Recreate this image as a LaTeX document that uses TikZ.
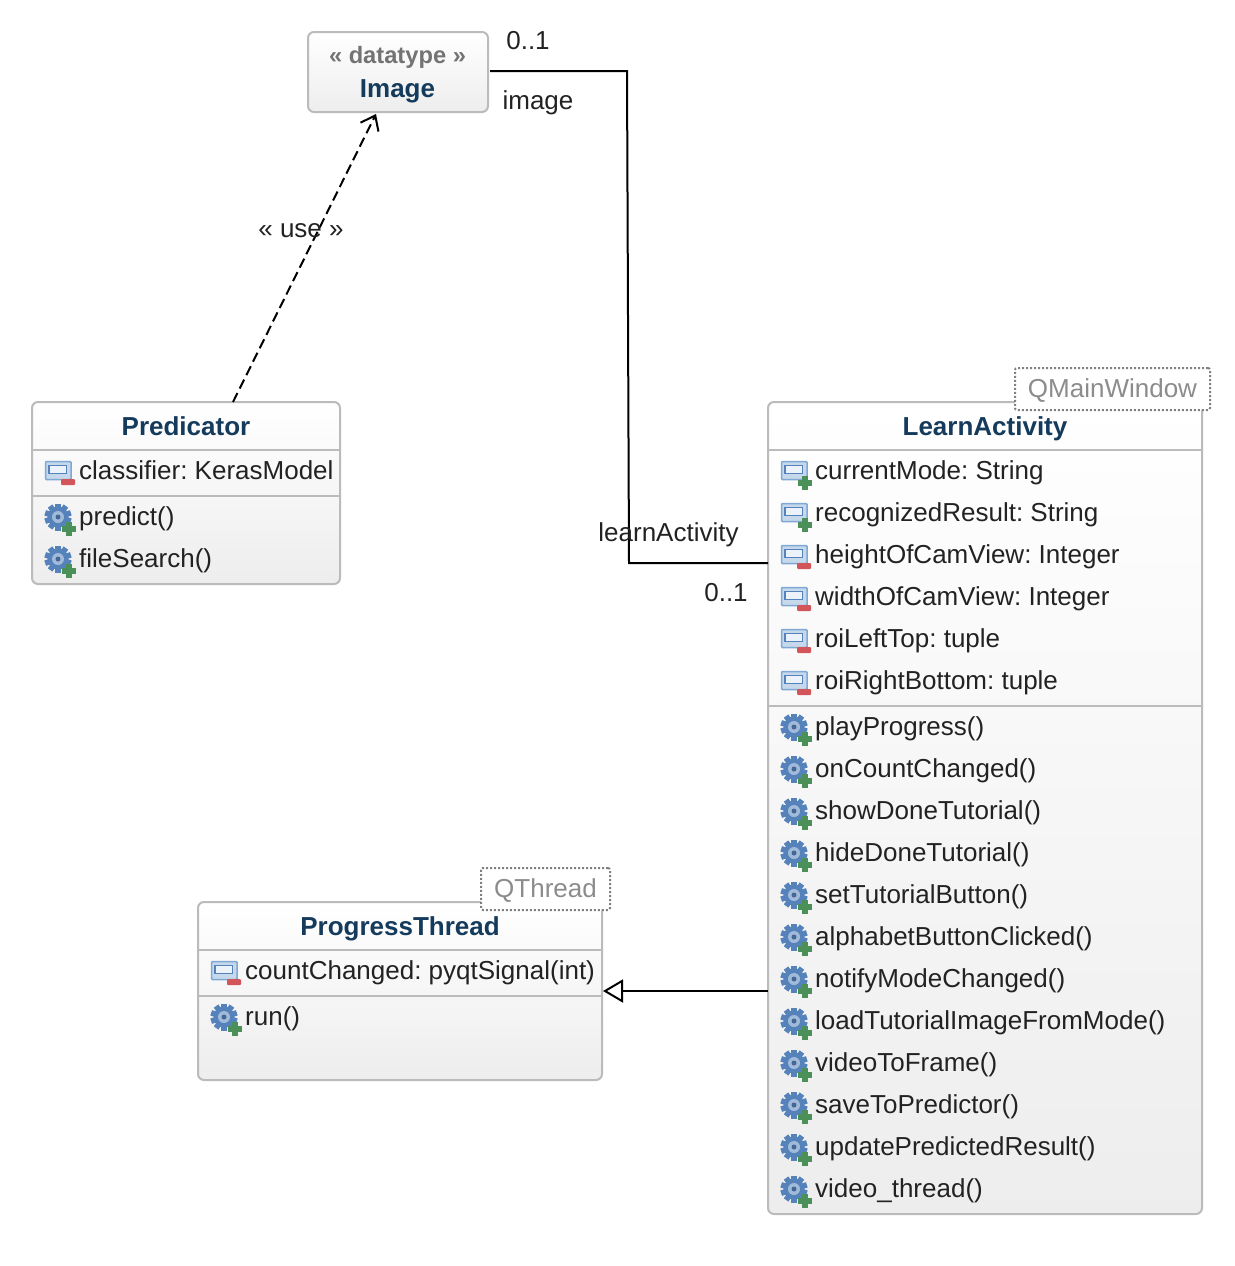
\documentclass[tikz,border=0pt]{standalone}
\usepackage{fontspec}
\setmainfont{Liberation Sans}
\usetikzlibrary{arrows.meta}
\definecolor{titleblue}{HTML}{143A5C}
\definecolor{textdark}{HTML}{222222}
\definecolor{boxgray}{HTML}{BBBBBB}
\definecolor{gearblue}{HTML}{5582BA}
\definecolor{iconblue}{HTML}{7FA8D4}
\definecolor{plusgreen}{HTML}{4A9058}
\definecolor{minusred}{HTML}{D2555A}
\tikzset{
  classbox/.style={draw=boxgray,line width=2pt,rounded corners=6pt,inner sep=0pt,outer sep=0pt,top color=white,bottom color=black!7},
  parentbox/.style={draw=black!50,line width=2pt,dash pattern=on 2pt off 2pt,rounded corners=2pt,fill=white,inner sep=0pt,text=black!45,text height=21pt,text depth=5pt,font=\fontsize{26}{30}\selectfont},
  classname/.style={anchor=base,inner sep=0pt,text=titleblue,font=\fontsize{26}{30}\selectfont\bfseries},
  rowtext/.style={anchor=base west,inner sep=0pt,text=textdark,font=\fontsize{26}{30}\selectfont\frenchspacing},
  endlabel/.style={inner sep=0pt,text=textdark,font=\fontsize{26}{30}\selectfont},
  sepline/.style={draw=boxgray,line width=2pt},
  assoc/.style={line width=2pt,black},
  genline/.style={line width=2pt,black,{Triangle[open,length=20pt,width=23pt,line width=2pt]}-},
  depline/.style={line width=2pt,black,dash pattern=on 10pt off 5pt,-{Straight Barb[length=13pt,width=20pt,line width=2pt]}},
  pics/attrbase/.style={code={
    \draw[iconblue,line width=1.5pt,fill=iconblue!45,rounded corners=1pt] (-12.5,-9.5) rectangle (13,8.5);
    \draw[gearblue,line width=1.2pt,fill=white!85!iconblue] (-9,-5.5) rectangle (8.5,2.5);
  }},
  pics/attrminus/.style={code={
    \pic {attrbase};
    \fill[minusred,rounded corners=1pt] (3,8) rectangle (17,14);
  }},
  pics/plusmark/.style={code={
    \draw[white,line width=2pt] (11,5.5) -- (11,18.5) (4.5,12) -- (17.5,12);
    \fill[plusgreen] (8,5) rectangle (14,19);
    \fill[plusgreen] (4,9) rectangle (18,15);
  }},
  pics/attrplus/.style={code={
    \pic {attrbase};
    \pic {plusmark};
  }},
  pics/operplus/.style={code={
    \foreach \a in {0,36,...,324}
      \fill[gearblue,rotate=\a] (-2.8,-13.5) rectangle (2.8,-8);
    \fill[gearblue] (0,0) circle (10.5);
    \fill[gearblue!55] (0,0) circle (6);
    \fill[gearblue!80!black] (0,0) circle (2.5);
    \pic {plusmark};
  }}
}
\begin{document}
\begin{tikzpicture}[x=1pt,y=-1pt]
  \useasboundingbox (0,0) rectangle (1234,1266);

  \node[classbox,minimum width=180pt,minimum height=80pt] (image) at (398,72) {};
  \node[classname,text=black!55,font=\fontsize{23.7}{28}\selectfont\bfseries] (imagestereo) at (397.5,63) {« datatype »};
  \node[classname] (imagename) at (397.5,97) {Image};

  \node[classbox,minimum width=308pt,minimum height=182pt] (predicator) at (186,493) {};
  \node[classname] (predicatorname) at (186,435) {Predicator};
  \draw[sepline] (predicator.west |- 0,450) -- (predicator.east |- 0,450);
  \draw[sepline] (predicator.west |- 0,496) -- (predicator.east |- 0,496);
  \pic at (58,471) {attrminus};
  \node[rowtext] (predicatorattr) at (79,479) {classifier: KerasModel};
  \foreach \y/\txt in {517/predict(),559/fileSearch()} {
    \pic at (58,\y) {operplus};
    \node[rowtext] (predicatorop\y) at (79,\y+8) {\txt};
  }

  \node[classbox,minimum width=434pt,minimum height=812pt] (learn) at (985,808) {};
  \node[classname] (learnname) at (985,435) {LearnActivity};
  \node[parentbox,minimum width=195pt,minimum height=42pt] (learnparent) at (1112.5,389) {QMainWindow};
  \draw[sepline] (learn.west |- 0,450) -- (learn.east |- 0,450);
  \draw[sepline] (learn.west |- 0,706) -- (learn.east |- 0,706);
  \foreach \y/\txt in {471/currentMode: String,513/recognizedResult: String} {
    \pic at (794,\y) {attrplus};
    \node[rowtext] (learnattr\y) at (815,\y+8) {\txt};
  }
  \foreach \y/\txt in {555/heightOfCamView: Integer,597/widthOfCamView: Integer,639/roiLeftTop: tuple,681/roiRightBottom: tuple} {
    \pic at (794,\y) {attrminus};
    \node[rowtext] (learnattr\y) at (815,\y+8) {\txt};
  }
  \foreach \y/\txt in {727/playProgress(),769/onCountChanged(),811/showDoneTutorial(),853/hideDoneTutorial(),895/setTutorialButton(),937/alphabetButtonClicked(),979/notifyModeChanged(),1021/loadTutorialImageFromMode(),1063/videoToFrame(),1105/saveToPredictor(),1147/updatePredictedResult(),1189/video\_thread()} {
    \pic at (794,\y) {operplus};
    \node[rowtext] (learnop\y) at (815,\y+8) {\txt};
  }

  \node[classbox,minimum width=404pt,minimum height=178pt] (progress) at (400,991) {};
  \node[classname] (progressname) at (400,935) {ProgressThread};
  \node[parentbox,minimum width=129pt,minimum height=42pt] (progressparent) at (545.5,889) {QThread};
  \draw[sepline] (progress.west |- 0,950) -- (progress.east |- 0,950);
  \draw[sepline] (progress.west |- 0,996) -- (progress.east |- 0,996);
  \pic at (224,971) {attrminus};
  \node[rowtext] (progressattr) at (245,979) {countChanged: pyqtSignal(int)};
  \pic at (224,1017) {operplus};
  \node[rowtext] (progressop) at (245,1025) {run()};

  \coordinate (usefrom) at (233,402);
  \coordinate (useto) at (376,114);
  \coordinate (learnend) at (768,563);
  \draw[depline] (predicator.north -| usefrom) -- (useto);
  \draw[assoc] ([xshift=2pt]image.east |- 0,71) -- (627,71) -- (629,563) -- (learnend);
  \draw[genline,shorten <=1pt] (progress.east) -- (learn.west |- progress.east);

  \node[endlabel] (uselabel) at (301,231) {« use »};
  \node[endlabel] (imagemult) at (528,41) {0..1};
  \node[endlabel] (imagerole) at (538,103) {image};
  \node[endlabel] (learnrole) at (668.5,535) {learnActivity};
  \node[endlabel] (learnmult) at (726,593) {0..1};
\end{tikzpicture}
\end{document}
